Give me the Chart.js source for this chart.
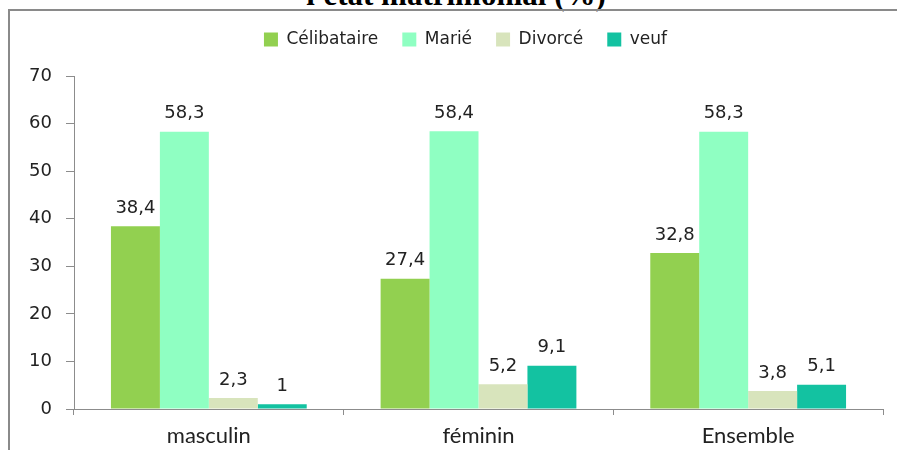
<!DOCTYPE html>
<html><head><meta charset="utf-8">
<script src="https://cdn.jsdelivr.net/npm/chart.js@4.4.1/dist/chart.umd.min.js"></script>
<style>
html,body{margin:0;padding:0;background:#fff;width:897px;height:450px;overflow:hidden;}
#wrap{position:relative;width:897px;height:450px;overflow:hidden;}
#frameTop{position:absolute;left:8px;top:9px;width:889px;height:2px;background:#8a8a8a;}
#frameLeft{position:absolute;left:8px;top:9px;width:2px;height:441px;background:#8a8a8a;}
#title{position:absolute;left:0;width:912px;top:-18px;line-height:26px;text-align:center;font-family:"Liberation Serif";font-weight:bold;font-size:31px;color:#000;white-space:nowrap;}
canvas{position:absolute;left:0;top:0;}
</style></head>
<body><div id="wrap"><div id="title">l'état matrimonial (%)</div><div id="frameTop"></div><div id="frameLeft"></div><canvas id="c" width="897" height="450"></canvas></div>
<script>
const categories = ['masculin', 'féminin', 'Ensemble'];
const seriesNames = ['Célibataire', 'Marié', 'Divorcé', 'veuf'];
const celibataire = [38.4, 27.4, 32.8];
const marie = [58.3, 58.4, 58.3];
const divorce = [2.3, 5.2, 3.8];
const veuf = [1, 9.1, 5.1];
const yTicks = [0, 10, 20, 30, 40, 50, 60, 70];
const seriesColors = ['#92D050', '#8FFFC2', '#D8E4BC', '#13C2A1'];

const seriesValues = [celibataire, marie, divorce, veuf];

const valueLabels = {
  id: 'valueLabels',
  afterDatasetsDraw(chart) {
    const ctx = chart.ctx;
    ctx.save();
    ctx.font = '18px "DejaVu Sans"';
    ctx.fillStyle = '#222';
    ctx.textAlign = 'center';
    ctx.textBaseline = 'middle';
    chart.data.datasets.forEach((ds, i) => {
      chart.getDatasetMeta(i).data.forEach((bar, j) => {
        ctx.fillText(String(ds.data[j]).replace('.', ','), bar.x, bar.y - 18);
      });
    });
    ctx.restore();
  }
};

const legendSpace = {
  id: 'legendSpace',
  afterInit(chart) {
    const lg = chart.legend;
    if (!lg) return;
    const orig = lg.fit;
    lg.fit = function () { orig.call(this); this.height = 69; };
  },
  afterLayout(chart) {
    const lg = chart.legend;
    if (!lg) return;
    lg.left += 24;
    lg.right += 24;
  }
};

new Chart(document.getElementById('c'), {
  type: 'bar',
  data: {
    labels: categories,
    datasets: seriesNames.map((name, i) => ({
      label: name,
      data: seriesValues[i],
      backgroundColor: seriesColors[i],
      borderWidth: 0,
      categoryPercentage: 0.726,
      barPercentage: 1
    }))
  },
  options: {
    responsive: false,
    animation: false,
    devicePixelRatio: 1,
    layout: { padding: { left: 0, right: 14, top: 7, bottom: 0 } },
    plugins: {
      tooltip: { enabled: false },
      title: { display: false },
      legend: {
        position: 'top',
        labels: {
          boxWidth: 14, boxHeight: 14, padding: 24,
          color: '#222',
          font: { family: 'DejaVu Sans', size: 17 }
        }
      }
    },
    scales: {
      x: {
        grid: { display: true, drawOnChartArea: false, drawTicks: true, tickLength: 6, color: '#8c8c8c', offset: true },
        border: { display: true, color: '#8c8c8c', width: 1 },
        ticks: { font: { family: 'Lato', size: 22 }, color: '#222', padding: 8 },
        afterFit(s) { s.height = 41; }
      },
      y: {
        min: 0, max: 70,
        afterBuildTicks(s) { s.ticks = yTicks.map(v => ({ value: v })); },
        ticks: { font: { family: 'DejaVu Sans', size: 18 }, color: '#222', padding: 14 },
        grid: { display: true, drawOnChartArea: false, drawTicks: true, tickLength: 8, color: '#8c8c8c' },
        border: { display: true, color: '#8c8c8c', width: 1 },
        afterFit(s) { s.width = 74; }
      }
    }
  },
  plugins: [valueLabels, legendSpace]
});
</script>
</body></html>
